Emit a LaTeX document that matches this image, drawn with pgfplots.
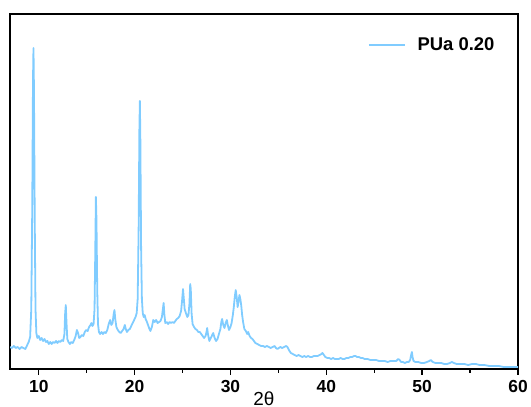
\documentclass[border=0pt]{standalone}
\usepackage{pgfplots}
\pgfplotsset{compat=1.18}
\usepackage{fontspec}
\setmainfont{Liberation Sans}
\definecolor{xrdblue}{RGB}{128,204,255}

\begin{document}
\begin{tikzpicture}
\begin{axis}[
  name=ax,
  scale only axis,
  width=508bp, height=355bp,
  xmin=7, xmax=60, ymin=0, ymax=355,
  xtick={10,20,30,40,50,60},
  xticklabels={\textbf{10},\textbf{20},\textbf{30},\textbf{40},\textbf{50},\textbf{60}},
  minor x tick num=1,
  ytick=\empty,
  xtick pos=bottom,
  tick align=outside,
  major tick length=5.5bp,
  minor tick length=3.5bp,
  tick style={black, line width=1.4pt},
  axis line style={line width=1.6pt},
  xticklabel style={font=\bfseries\fontsize{17.5}{17.5}\selectfont, yshift=-2bp},
  xlabel={2θ},
  xlabel style={font=\fontsize{19}{19}\selectfont, yshift=7bp},
  legend style={draw=none, fill=none, at={(rel axis cs:0.705,0.913)}, anchor=west,
    font=\bfseries\fontsize{18.5}{18.5}\selectfont, inner sep=0pt,
    /tikz/every odd column/.append style={column sep=10bp}},
  legend image code/.code={\draw[#1, line width=1.3pt] (0bp,0bp) -- (36bp,0bp);},
]
\addplot[xrdblue, line width=1.8pt, line join=round] coordinates {
(7.0,22) (7.2,21) (7.4,23) (7.6,21) (7.8,22) (8.0,20) (8.2,22) (8.4,21) (8.6,20) (8.8,24)
(8.95,27) (9.1,32) (9.22,60) (9.32,160) (9.4,290) (9.45,321) (9.5,280) (9.58,150) (9.66,60) (9.75,36)
(9.85,31) (10.0,33) (10.15,29) (10.3,31) (10.45,28) (10.6,30) (10.75,27) (10.9,28) (11.05,25) (11.2,27)
(11.35,25) (11.5,27) (11.65,26) (11.8,28) (11.95,26) (12.1,28) (12.25,27) (12.4,29) (12.55,28) (12.68,35)
(12.75,55) (12.82,64) (12.9,45) (12.98,30) (13.1,27) (13.25,25) (13.4,27) (13.55,26) (13.7,29) (13.85,33)
(13.98,39) (14.1,36) (14.22,31) (14.35,32) (14.5,34) (14.65,33) (14.8,37) (14.95,39) (15.1,38) (15.25,42)
(15.4,44) (15.5,46) (15.6,43) (15.72,45) (15.82,60) (15.9,120) (15.96,172) (16.02,150) (16.1,80) (16.18,45)
(16.28,37) (16.4,35) (16.55,37) (16.7,35) (16.85,37) (17.0,36) (17.15,39) (17.3,45) (17.45,49) (17.57,44)
(17.7,46) (17.82,55) (17.9,59) (17.98,50) (18.1,42) (18.25,39) (18.4,37) (18.55,36) (18.7,38) (18.85,40)
(18.98,44) (19.08,40) (19.2,37) (19.35,39) (19.5,40) (19.65,43) (19.8,46) (19.95,49) (20.1,52) (20.22,56)
(20.32,70) (20.42,140) (20.5,240) (20.55,268) (20.6,230) (20.68,120) (20.76,70) (20.85,56) (20.95,52) (21.05,54)
(21.15,50) (21.25,48) (21.4,44) (21.55,40) (21.65,38) (21.8,42) (21.95,49) (22.1,47) (22.25,49) (22.4,46)
(22.55,47) (22.7,48) (22.85,52) (22.95,60) (23.03,66) (23.1,55) (23.2,46) (23.35,47) (23.5,45) (23.65,47)
(23.8,46) (23.95,47) (24.1,46) (24.25,48) (24.4,50) (24.55,51) (24.7,53) (24.85,58) (24.95,68) (25.05,80)
(25.12,72) (25.22,60) (25.35,56) (25.5,52) (25.62,54) (25.72,65) (25.8,85) (25.86,80) (25.95,55) (26.05,45)
(26.2,42) (26.35,40) (26.5,39) (26.65,37) (26.8,37) (26.95,35) (27.1,33) (27.25,31) (27.4,33) (27.5,37)
(27.57,41) (27.65,35) (27.8,28) (27.95,31) (28.1,34) (28.2,36) (28.35,31) (28.5,28) (28.65,30) (28.8,35)
(28.95,40) (29.05,47) (29.13,50) (29.25,44) (29.38,41) (29.5,46) (29.62,49) (29.72,44) (29.85,39) (30.0,42)
(30.12,46) (30.25,54) (30.35,62) (30.45,72) (30.55,79) (30.65,72) (30.75,62) (30.85,68) (30.94,74) (31.03,70)
(31.12,64) (31.22,54) (31.32,47) (31.45,40) (31.6,38) (31.75,35) (31.85,37) (32.0,33) (32.15,31) (32.3,30)
(32.45,28) (32.6,26) (32.8,25) (33.0,24) (33.2,23) (33.4,23) (33.6,22) (33.8,23) (34.0,22) (34.2,21)
(34.4,22) (34.6,23) (34.75,21) (34.9,20) (35.05,21) (35.2,22) (35.4,21) (35.6,22) (35.8,23) (35.95,22)
(36.1,19) (36.3,16) (36.5,15) (36.7,14) (36.9,13) (37.1,14) (37.3,13) (37.5,12) (37.7,13) (37.9,12)
(38.1,13) (38.3,12) (38.5,12) (38.7,13) (38.9,13) (39.1,13) (39.3,14) (39.5,15) (39.6,16) (39.75,14)
(39.9,12) (40.1,11) (40.3,11) (40.5,10) (40.7,11) (40.9,10) (41.1,10) (41.3,10) (41.5,11) (41.7,10)
(41.9,10) (42.1,11) (42.3,11) (42.5,12) (42.7,12) (42.9,13) (43.05,13) (43.2,12) (43.4,12) (43.6,11)
(43.8,11) (44.0,10) (44.3,10) (44.6,9) (44.9,9) (45.2,9) (45.5,8) (45.8,8) (46.1,8) (46.4,7)
(46.7,8) (47.0,8) (47.3,8) (47.5,10) (47.65,9) (47.8,7) (48.0,7) (48.2,6) (48.4,7) (48.6,7)
(48.75,9) (48.85,14) (48.93,17) (49.0,12) (49.1,8) (49.3,7) (49.6,7) (49.9,6) (50.2,6) (50.5,7)
(50.75,8) (50.9,9) (51.1,7) (51.4,6) (51.7,6) (52.0,6) (52.3,5) (52.6,5) (52.9,6) (53.1,7)
(53.3,6) (53.6,5) (54.0,5) (54.4,5) (54.8,4) (55.2,5) (55.6,5) (56.0,4) (56.5,4) (57.0,3)
(57.5,3) (58.0,3) (58.5,2) (59.0,2) (59.5,2) (60.0,2)
};
\addlegendentry{PUa 0.20}
\end{axis}
\pgfresetboundingbox
\path[use as bounding box] ([shift={(-10bp,-38bp)}]ax.south west) rectangle ([shift={(13bp,14bp)}]ax.north east);
\end{tikzpicture}
\end{document}
